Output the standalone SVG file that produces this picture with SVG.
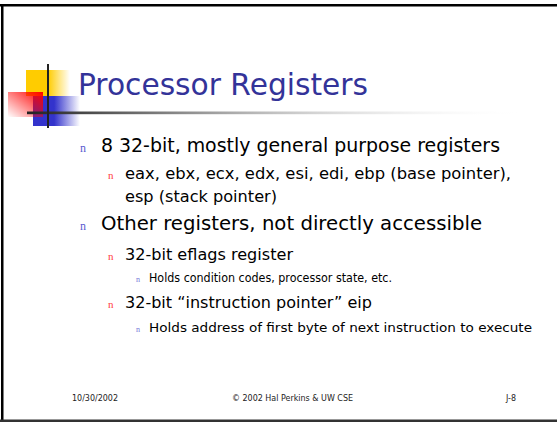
<svg xmlns="http://www.w3.org/2000/svg" width="557" height="422" viewBox="0 0 557 422">
  <style>
    .title { font-family: "DejaVu Sans", sans-serif; font-size: 30px; fill: #333399; }
    .t1 { font-family: "DejaVu Sans", sans-serif; font-size: 19px; fill: #000; }
    .t2 { font-family: "DejaVu Sans", sans-serif; font-size: 16px; fill: #000; }
    .t3 { font-family: "DejaVu Sans", sans-serif; font-size: 12px; fill: #000; }
    .b1 { font-family: "Liberation Serif", serif; font-size: 12px; fill: #5b5bd0; }
    .b2 { font-family: "Liberation Serif", serif; font-size: 11px; fill: #ff3b3b; }
    .b3 { font-family: "Liberation Serif", serif; font-size: 8px; fill: #7a7ad8; }
    .foot { font-family: "DejaVu Sans", sans-serif; font-size: 9px; fill: #222; }
  </style>
  <defs>
    <linearGradient id="yellowFade" x1="0" y1="0" x2="1" y2="0">
      <stop offset="0" stop-color="#ffcc00"/>
      <stop offset="0.5" stop-color="#ffcc00"/>
      <stop offset="1" stop-color="#ffcc00" stop-opacity="0"/>
    </linearGradient>
    <linearGradient id="redFade" x1="1" y1="0" x2="0" y2="1">
      <stop offset="0" stop-color="#ff0000"/>
      <stop offset="1" stop-color="#ff0000" stop-opacity="0"/>
    </linearGradient>
    <linearGradient id="blueFade" x1="0" y1="0" x2="1" y2="0">
      <stop offset="0" stop-color="#3333cc"/>
      <stop offset="0.45" stop-color="#3333cc"/>
      <stop offset="1" stop-color="#3333cc" stop-opacity="0"/>
    </linearGradient>
    <linearGradient id="ruleFade" x1="0" y1="0" x2="1" y2="0">
      <stop offset="0" stop-color="#222"/>
      <stop offset="0.3" stop-color="#888"/>
      <stop offset="1" stop-color="#fff" stop-opacity="0"/>
    </linearGradient>
  </defs>

  <rect width="557" height="422" fill="#fff"/>

  <!-- slide frame -->
  <g id="frame" fill="#000">
    <rect x="0" y="4" width="557" height="2.5"/>
    <rect x="1" y="4" width="2.5" height="418"/>
    <rect x="0" y="419.5" width="557" height="2.5" fill="#333"/>
  </g>

  <!-- title logo squares and rules -->
  <g id="logo">
    <rect x="26" y="70" width="44" height="26" fill="url(#yellowFade)"/>
    <rect x="33" y="96" width="47" height="30" fill="url(#blueFade)"/>
    <rect x="8" y="92" width="35" height="25" fill="url(#redFade)"/>
    <rect x="27" y="111.5" width="500" height="2.7" fill="url(#ruleFade)"/>
    <rect x="47" y="64" width="2" height="64" fill="#222"/>
  </g>

  <g id="title">
    <text class="title" x="78" y="95" textLength="290" lengthAdjust="spacingAndGlyphs">Processor Registers</text>
  </g>

  <g id="body">
    <text class="b1" x="80" y="152">n</text>
    <text class="t1" x="101" y="152" textLength="399" lengthAdjust="spacingAndGlyphs">8 32-bit, mostly general purpose registers</text>

    <text class="b2" x="108" y="179">n</text>
    <text class="t2" x="125" y="179" textLength="386" lengthAdjust="spacingAndGlyphs">eax, ebx, ecx, edx, esi, edi, ebp (base pointer),</text>
    <text class="t2" x="125" y="201.5" textLength="152" lengthAdjust="spacingAndGlyphs">esp (stack pointer)</text>

    <text class="b1" x="80" y="230">n</text>
    <text class="t1" x="101" y="230" textLength="381" lengthAdjust="spacingAndGlyphs">Other registers, not directly accessible</text>

    <text class="b2" x="108" y="260">n</text>
    <text class="t2" x="125" y="260" textLength="168" lengthAdjust="spacingAndGlyphs">32-bit eflags register</text>

    <text class="b3" x="136" y="281.5">n</text>
    <text class="t3" x="149" y="281.5" textLength="243" lengthAdjust="spacingAndGlyphs">Holds condition codes, processor state, etc.</text>

    <text class="b2" x="108" y="308">n</text>
    <text class="t2" x="125" y="308" textLength="247" lengthAdjust="spacingAndGlyphs">32-bit “instruction pointer” eip</text>

    <text class="b3" x="136" y="331.5">n</text>
    <text class="t3" x="149" y="331.5" textLength="383" lengthAdjust="spacingAndGlyphs">Holds address of first byte of next instruction to execute</text>
  </g>

  <g id="footer">
    <text class="foot" x="72" y="401" textLength="46" lengthAdjust="spacingAndGlyphs">10/30/2002</text>
    <text class="foot" x="232" y="401" textLength="121" lengthAdjust="spacingAndGlyphs">© 2002 Hal Perkins &amp; UW CSE</text>
    <text class="foot" x="506" y="401" textLength="10" lengthAdjust="spacingAndGlyphs">J-8</text>
  </g>
</svg>
